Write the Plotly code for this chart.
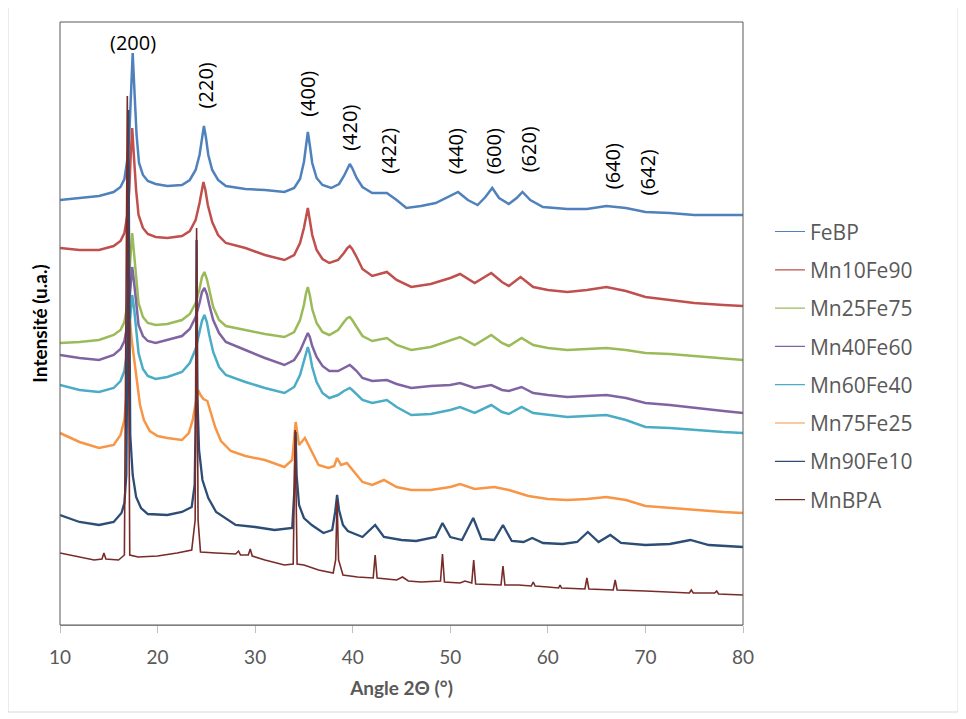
import plotly.graph_objects as go

# ---------------- data (intensity in arbitrary units) ----------------
febp_x = [10, 12, 14, 15.5, 16.2, 16.6, 16.9, 17.1, 17.25, 17.45, 17.65, 17.85, 18.1, 18.5, 19.0, 19.8, 21, 22.5, 23.3, 23.9,
          24.3, 24.55, 24.75, 24.95, 25.2, 25.6, 26.2, 27, 29, 31, 33, 34.0, 34.6, 35.0, 35.2, 35.4, 35.6, 35.85, 36.3, 36.9,
          37.8, 38.6, 39.1, 39.45, 39.7, 39.95, 40.4, 41, 42, 43.5, 44.5, 45.5, 47, 48.5, 50, 50.8, 51.8, 52.8, 53.6, 54.3,
          55, 56, 56.8, 57.4, 58.2, 59.5, 62, 64, 66, 68, 70, 72.5, 75, 78, 80]
febp_y = [425, 427, 429, 433, 438, 446, 465, 490, 530, 572, 530, 490, 462, 450, 444, 441, 439, 440, 445, 455,
          470, 488, 499, 488, 470, 455, 445, 439, 436, 435, 433, 437, 446, 463, 480, 493, 480, 462, 447, 440,
          437, 441, 449, 457, 461, 457, 447, 438, 432, 432, 425, 417, 419, 422, 429, 433, 425, 420, 428, 437,
          427, 421, 427, 433, 425, 418, 416, 416, 419, 417, 413, 412, 410, 410, 410]

mn10_x = [10, 12, 14, 15.5, 16.2, 16.6, 16.9, 17.1, 17.25, 17.4, 17.6, 17.8, 18.05, 18.5, 19.0, 19.8, 21, 22.5, 23.3, 23.9,
          24.3, 24.5, 24.7, 24.9, 25.15, 25.6, 26.2, 27, 29, 31, 33, 34.0, 34.6, 35.0, 35.2, 35.4, 35.6, 35.85, 36.3, 36.9,
          37.6, 38.5, 39.1, 39.45, 39.7, 39.95, 40.4, 41, 42, 43.5, 44.5, 46, 48, 50, 51, 52.5, 54.2, 55.3, 56, 57.2,
          58.5, 60, 62, 64, 66, 68, 70, 72.5, 75, 78, 80]
mn10_y = [377, 375, 375, 379, 384, 392, 410, 435, 470, 497, 465, 435, 410, 397, 391, 388, 387, 389, 394, 405,
          422, 435, 443, 435, 420, 403, 390, 382, 377, 370, 365, 370, 382, 397, 408, 417, 405, 390, 375, 366,
          362, 365, 372, 377, 379, 376, 368, 356, 349, 353, 345, 338, 341, 347, 351, 342, 352, 343, 339, 348,
          338, 335, 333, 335, 338, 334, 328, 325, 322, 320, 319]

mn25_x = [10, 12, 14, 15.5, 16.2, 16.6, 16.9, 17.1, 17.25, 17.4, 17.6, 17.8, 18.05, 18.5, 19.0, 19.8, 21, 22.5, 23.3, 23.9,
          24.3, 24.55, 24.8, 25.05, 25.3, 25.7, 26.3, 27, 29, 31, 33, 34.0, 34.6, 35.0, 35.2, 35.4, 35.6, 35.85, 36.3, 36.9,
          37.6, 38.5, 39.1, 39.45, 39.7, 39.95, 40.4, 41, 42, 43.5, 44.5, 46, 48, 50, 51, 52.5, 54.2, 55.3, 56, 57.3,
          58.5, 60, 62, 64, 66, 68, 70, 72.5, 75, 78, 80]
mn25_y = [282, 283, 285, 290, 295, 303, 320, 345, 372, 392, 370, 345, 322, 308, 302, 300, 301, 305, 311, 322,
          336, 348, 353, 346, 334, 318, 305, 299, 295, 291, 288, 293, 305, 320, 331, 338, 330, 316, 302, 293,
          290, 295, 303, 307, 308, 305, 298, 289, 284, 287, 280, 275, 278, 285, 288, 280, 290, 282, 279, 287,
          280, 277, 275, 276, 277, 275, 272, 271, 269, 267, 265]

mn40_x = [10, 12, 14, 15.5, 16.2, 16.6, 16.9, 17.1, 17.25, 17.4, 17.6, 17.8, 18.05, 18.5, 19.0, 19.8, 21, 22.5, 23.3, 23.9,
          24.3, 24.55, 24.8, 25.05, 25.3, 25.7, 26.3, 27, 29, 31, 33, 34.0, 34.6, 35.0, 35.2, 35.4, 35.6, 35.85, 36.3, 36.9,
          37.6, 38.5, 39.1, 39.45, 39.7, 39.95, 40.4, 41, 42, 43.5, 44.5, 46, 48, 50, 51, 52.5, 54.2, 55.3, 56, 57.3,
          58.5, 60, 62, 64, 66, 68, 70, 72.5, 75, 78, 80]
mn40_y = [270, 267, 265, 270, 276, 284, 300, 322, 345, 358, 342, 320, 300, 289, 284, 282, 285, 289, 296, 308,
          322, 333, 337, 331, 320, 305, 292, 283, 275, 267, 260, 265, 274, 284, 289, 292, 288, 279, 268, 259,
          254, 254, 257, 259, 260, 258, 254, 247, 244, 245, 241, 237, 239, 240, 242, 237, 240, 235, 234, 238,
          232, 230, 228, 229, 230, 227, 222, 220, 217, 214, 212]

mn60_x = [10, 12, 14, 15.5, 16.2, 16.6, 16.9, 17.1, 17.25, 17.4, 17.6, 17.8, 18.05, 18.5, 19.0, 19.8, 21, 22.5, 23.3, 23.9,
          24.3, 24.55, 24.8, 25.05, 25.3, 25.7, 26.3, 27, 29, 31, 33, 34.0, 34.6, 35.0, 35.2, 35.4, 35.6, 35.85, 36.3, 36.9,
          37.6, 38.5, 39.1, 39.45, 39.7, 39.95, 40.4, 41, 42, 43.5, 44.5, 46, 48, 50, 51, 52.5, 54.2, 55.3, 56, 57.3,
          58.5, 60, 62, 64, 66, 68, 70, 72.5, 75, 78, 80]
mn60_y = [240, 235, 233, 237, 244, 254, 275, 300, 320, 330, 316, 295, 272, 256, 249, 246, 248, 253, 262, 276,
          292, 304, 310, 303, 290, 273, 258, 250, 243, 237, 232, 238, 250, 264, 273, 278, 271, 258, 243, 232,
          227, 230, 234, 236, 237, 235, 231, 225, 222, 225, 218, 210, 211, 215, 218, 212, 220, 213, 211, 218,
          212, 210, 208, 209, 210, 205, 198, 197, 195, 193, 192]

mn75_x = [10, 12, 14, 15.5, 16.2, 16.6, 16.85, 17.0, 17.15, 17.35, 17.6, 17.9, 18.2, 18.6, 19.2, 20, 21, 22.5, 23.2, 23.6,
          23.9, 24.15, 24.4, 24.7, 25.1, 25.5, 25.9, 26.5, 27.5, 29, 31, 33, 33.8, 34.15, 34.5, 35.1, 35.8, 36.5, 37.5, 38.1,
          38.4, 38.8, 39.4, 40.2, 41, 42, 43.2, 44.5, 46, 48, 50, 51, 52.5, 54.5, 56, 58, 60, 62, 64, 66,
          68, 70, 72.5, 75, 78, 80]
mn75_y = [192, 183, 177, 180, 190, 205, 235, 270, 307, 285, 265, 240, 220, 205, 194, 189, 187, 185, 192, 205,
          222, 235, 230, 226, 224, 212, 198, 184, 174, 169, 165, 158, 165, 203, 180, 187, 173, 160, 157, 159,
          167, 160, 162, 153, 143, 140, 145, 138, 135, 135, 138, 141, 136, 138, 135, 129, 126, 125, 126, 128,
          125, 119, 117, 115, 113, 112]

mn90_x = [10, 12, 14, 15.5, 16.3, 16.6, 16.8, 16.92, 17.0, 17.08, 17.2, 17.45, 17.8, 18.3, 19.0, 21, 22.5, 23.5, 23.8, 23.93,
          24.0, 24.08, 24.25, 24.6, 25.2, 26, 28, 30, 32, 33.8, 34.05, 34.15, 34.25, 34.5, 35, 35.8, 37, 37.9, 38.2, 38.4,
          38.6, 39, 39.5, 41, 42.3, 43.2, 45, 46.5, 48.5, 49.2, 50, 51.2, 52.35, 53.2, 54.5, 55.4, 56.3, 57.5, 58.4, 59.5,
          61.5, 63, 64.1, 65.2, 66.4, 67.5, 70, 72.5, 74.6, 76.5, 78, 80]
mn90_y = [110, 103, 100, 103, 112, 122, 150, 300, 515, 330, 190, 150, 128, 117, 111, 110, 113, 118, 140, 220,
          385, 230, 175, 145, 127, 113, 100, 98, 95, 97, 140, 193, 150, 120, 107, 100, 92, 95, 113, 130,
          115, 100, 94, 88, 100, 88, 85, 84, 88, 102, 88, 85, 107, 86, 85, 100, 84, 83, 87, 82,
          81, 83, 93, 83, 90, 82, 80, 81, 85, 80, 79, 78]

mnbpa_x = [10, 12, 13.5, 14.3, 14.5, 14.7, 16, 16.6, 16.8, 16.9, 17.0, 17.15, 18, 20, 22, 23.5, 23.85, 24.0, 24.15, 24.4,
           26, 28, 28.3, 28.5, 29.3, 29.5, 29.7, 31, 33, 33.9, 34.1, 34.3, 35, 36.5, 38, 38.25, 38.4, 38.55, 39, 40.5,
           42.1, 42.3, 42.5, 44.5, 45.1, 45.7, 47, 49, 49.2, 49.4, 51, 51.5, 52.2, 52.4, 52.6, 55.2, 55.4, 55.6, 57, 58.3,
           58.5, 58.7, 60, 61.1, 61.25, 61.4, 63.8, 64.0, 64.2, 66.7, 66.9, 67.1, 70, 74.5, 74.7, 74.9, 77.1, 77.3, 77.5, 80]
mnbpa_y = [72, 68, 65, 66, 72, 66, 65, 70, 325, 529, 325, 70, 68, 69, 72, 75, 105, 397, 105, 73,
           72, 71, 74, 70, 70, 76, 69, 65, 60, 61, 195, 61, 60, 55, 52, 65, 125, 65, 50, 48,
           47, 70, 47, 45, 48, 44, 43, 44, 71, 43, 42, 44, 42, 65, 41, 40, 59, 40, 40, 39,
           43, 39, 38, 37, 40, 37, 36, 47, 36, 35, 45, 35, 34, 32, 35, 32, 32, 34, 31, 30]

series_names = ["FeBP", "Mn10Fe90", "Mn25Fe75", "Mn40Fe60", "Mn60Fe40", "Mn75Fe25", "Mn90Fe10", "MnBPA"]
series_x = [febp_x, mn10_x, mn25_x, mn40_x, mn60_x, mn75_x, mn90_x, mnbpa_x]
series_y = [febp_y, mn10_y, mn25_y, mn40_y, mn60_y, mn75_y, mn90_y, mnbpa_y]

peak_labels = ["(200)", "(220)", "(400)", "(420)", "(422)", "(440)", "(600)", "(620)", "(640)", "(642)"]
peak_label_x = [17.5, 24.9, 35.3, 39.6, 43.6, 50.5, 54.4, 58.0, 66.6, 70.2]
peak_label_y = [583, 540, 531, 497, 474, 474, 474, 476, 459, 453]

x_ticks = [10, 20, 30, 40, 50, 60, 70, 80]

# ---------------- styles ----------------
colors = ["#4F81BD", "#C0504D", "#9BBB59", "#8064A2", "#4BACC6", "#F79646", "#2C4D75", "#772C2A"]
widths = [2.5, 2.5, 2.5, 2.5, 2.5, 2.5, 2.3, 1.6]

fig = go.Figure()
for name, xs, ys, c, w in zip(series_names, series_x, series_y, colors, widths):
    fig.add_trace(go.Scatter(x=xs, y=ys, mode="lines", name=name, legendgroup=name,
                             showlegend=False, line=dict(color=c, width=w)))
# legend entries with thin line samples (as in the reference)
for name, c in zip(series_names, colors):
    fig.add_trace(go.Scatter(x=[None], y=[None], mode="lines", name=name, legendgroup=name,
                             showlegend=True, line=dict(color=c, width=1.2), hoverinfo="skip"))

for i, (t, px, py) in enumerate(zip(peak_labels, peak_label_x, peak_label_y)):
    fig.add_annotation(x=px, y=py, xref="x", yref="y", text=t, showarrow=False,
                       textangle=0 if i == 0 else -90,
                       font=dict(family="Open Sans", size=20, color="#000000"))

# plot-area border
fig.add_shape(type="rect", xref="paper", yref="paper", x0=0, y0=0, x1=1, y1=1,
              line=dict(color="#595959", width=1), layer="above")
# chart outer border
fig.add_shape(type="rect", xref="paper", yref="paper", x0=-0.0761, y0=-0.1443, x1=1.3148, y1=1.0282,
              line=dict(color="#D9D9D9", width=1))

fig.update_layout(
    width=958, height=711,
    margin=dict(l=52, r=223, t=14, b=94),
    paper_bgcolor="white", plot_bgcolor="white",
    showlegend=True,
    legend=dict(x=1.0395, y=0.686, xanchor="left", yanchor="top",
                font=dict(family="Open Sans", size=21, color="#595959"),
                tracegroupgap=8, bgcolor="rgba(0,0,0,0)"),
    xaxis=dict(range=[10, 80], tickvals=x_ticks, ticks="outside", ticklen=7, tickcolor="#BFBFBF",
               showgrid=False, zeroline=False, showline=True, linecolor="#A6A6A6",
               tickfont=dict(family="Lato", size=19, color="#595959"), ticklabelstandoff=8,
               title=dict(text="<b>Angle 2Θ (°)</b>", font=dict(family="Lato", size=19, color="#595959"),
                          standoff=14)),
    yaxis=dict(range=[0, 603], showticklabels=False, ticks="", showgrid=False, zeroline=False,
               showline=False,
               title=dict(text="<b>Intensité (u.a.)</b>", font=dict(family="Lato", size=19, color="#000000"),
                          standoff=6)),
)

fig.write_html("out.html")
